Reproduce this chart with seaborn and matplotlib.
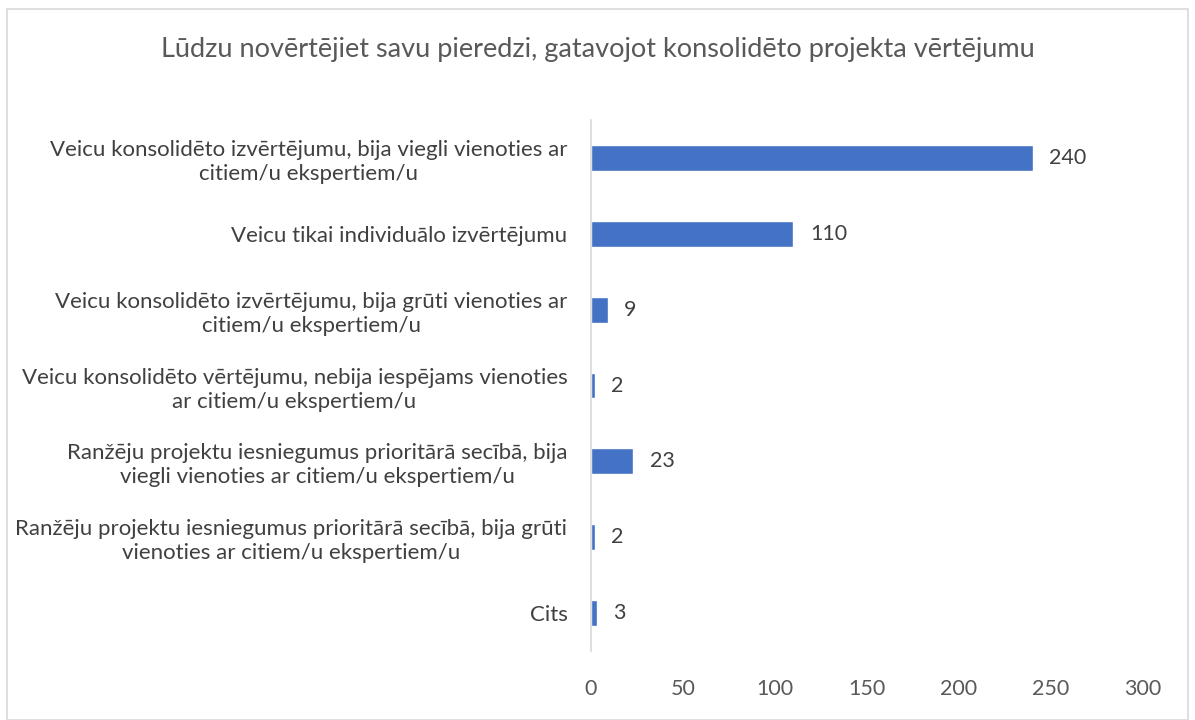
import matplotlib
matplotlib.use("Agg")
import matplotlib.pyplot as plt
import seaborn as sns
import pandas as pd
from matplotlib.patches import Rectangle

categories = [
    "Veicu konsolidēto izvērtējumu, bija viegli vienoties ar\ncitiem/u ekspertiem/u",
    "Veicu tikai individuālo izvērtējumu",
    "Veicu konsolidēto izvērtējumu, bija grūti vienoties ar\ncitiem/u ekspertiem/u",
    "Veicu konsolidēto vērtējumu, nebija iespējams vienoties\nar citiem/u ekspertiem/u",
    "Ranžēju projektu iesniegumus prioritārā secībā, bija\nviegli vienoties ar citiem/u ekspertiem/u",
    "Ranžēju projektu iesniegumus prioritārā secībā, bija grūti\nvienoties ar citiem/u ekspertiem/u",
    "Cits",
]
values = [240, 110, 9, 2, 23, 2, 3]
xticks = [0, 50, 100, 150, 200, 250, 300]
title = "Lūdzu novērtējiet savu pieredzi, gatavojot konsolidēto projekta vērtējumu"

sns.set_theme(style="white")
plt.rcParams["font.family"] = ["Lato", "DejaVu Sans"]

df = pd.DataFrame({"cat": categories, "val": values})

fig = plt.figure(figsize=(11.95, 7.2), dpi=100)
ax = fig.add_axes([0.4946, 0.0958, 0.4619, 0.7375])
sns.barplot(data=df, x="val", y="cat", orient="h", color="#4472C4",
            width=0.34, saturation=1, ax=ax)

ax.set_xlim(0, 300)
ax.set_xticks(xticks)
ax.set_xticklabels([str(t) for t in xticks], fontsize=15.5, color="#595959")
ax.tick_params(axis="x", length=0, pad=20)
ax.tick_params(axis="y", length=0, pad=17)
for lab in ax.get_yticklabels():
    lab.set_fontsize(16)
    lab.set_color("#404040")
    lab.set_horizontalalignment("right")
    lab.set_multialignment("center")
    lab.set_linespacing(1.25)
ax.set_xlabel("")
ax.set_ylabel("")
for s in ["top", "right", "bottom"]:
    ax.spines[s].set_visible(False)
ax.spines["left"].set_color("#D9D9D9")
ax.spines["left"].set_linewidth(1.2)

for i, v in enumerate(values):
    ax.text(v + 9, i, str(v), va="center", ha="left", fontsize=15.5, color="#404040")

fig.text(0.5, 0.931, title, ha="center", va="center", fontsize=19.5, color="#595959")
fig.patches.append(Rectangle((0.006, 0.0), 0.988, 0.987, transform=fig.transFigure,
                             fill=False, edgecolor="#D9D9D9", linewidth=1.2))

fig.savefig("out.png", dpi=100, facecolor="white")
